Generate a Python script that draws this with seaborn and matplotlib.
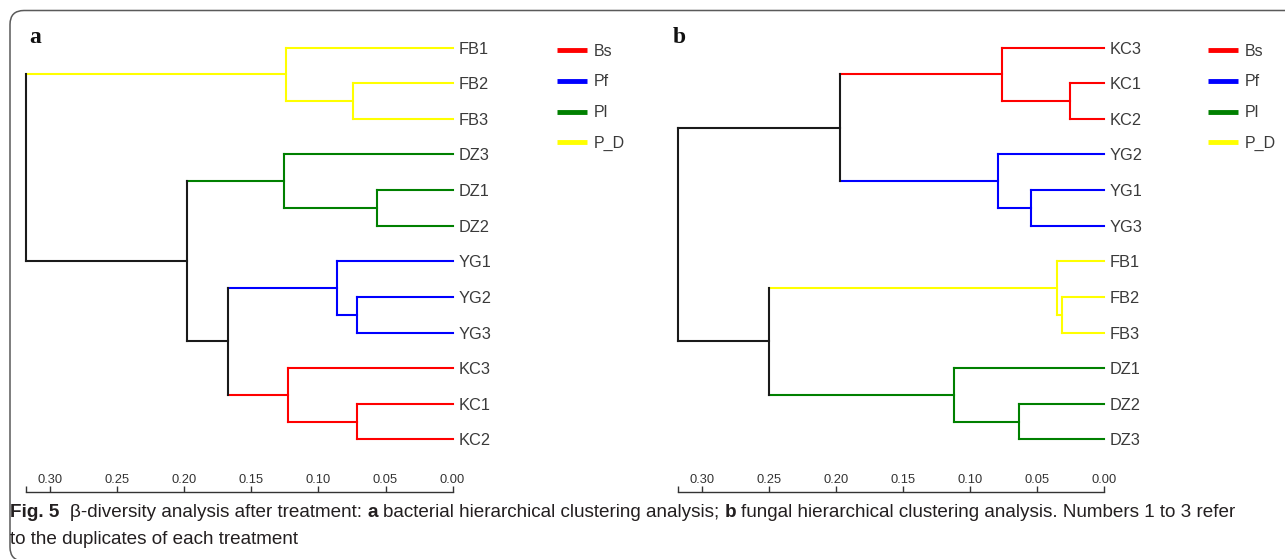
import numpy as np
import pandas as pd
import matplotlib
matplotlib.use("Agg")
import matplotlib.pyplot as plt
import seaborn as sns
from matplotlib.lines import Line2D
from matplotlib.patches import FancyBboxPatch
from matplotlib.transforms import IdentityTransform
from matplotlib import font_manager

# ---------------- data ----------------
groups = ["Bs", "Pf", "Pl", "P_D"]
group_colors = ["#ff0000", "#0000ff", "#008000", "#ffff00"]

# panel a (bacteria)
leaves_a = ["FB1", "FB2", "FB3", "DZ3", "DZ1", "DZ2", "YG1", "YG2", "YG3", "KC3", "KC1", "KC2"]
leaf_group_a = ["P_D", "P_D", "P_D", "Pl", "Pl", "Pl", "Pf", "Pf", "Pf", "Bs", "Bs", "Bs"]
merge_left_a = [1, 0, 4, 3, 7, 6, 10, 9, 17, 15, 13]
merge_right_a = [2, 12, 5, 14, 8, 16, 11, 18, 19, 20, 21]
merge_height_a = [0.074, 0.124, 0.056, 0.126, 0.071, 0.086, 0.0715, 0.1225, 0.1675, 0.198, 0.318]

# panel b (fungi)
leaves_b = ["KC3", "KC1", "KC2", "YG2", "YG1", "YG3", "FB1", "FB2", "FB3", "DZ1", "DZ2", "DZ3"]
leaf_group_b = ["Bs", "Bs", "Bs", "Pf", "Pf", "Pf", "P_D", "P_D", "P_D", "Pl", "Pl", "Pl"]
merge_left_b = [1, 0, 4, 3, 13, 7, 6, 10, 9, 18, 16]
merge_right_b = [2, 12, 5, 14, 15, 8, 17, 11, 19, 20, 21]
merge_height_b = [0.025, 0.076, 0.054, 0.079, 0.1965, 0.031, 0.035, 0.0635, 0.112, 0.250, 0.318]

x_ticks = [0.30, 0.25, 0.20, 0.15, 0.10, 0.05, 0.00]
x_tick_labels = ["0.30", "0.25", "0.20", "0.15", "0.10", "0.05", "0.00"]

caption_line1 = [("Fig. 5", "bold"), ("β-diversity analysis after treatment:", "normal"), ("a", "bold"),
                 ("bacterial hierarchical clustering analysis;", "normal"), ("b", "bold"),
                 ("fungal hierarchical clustering analysis. Numbers 1 to 3 refer", "normal")]
caption_line2 = "to the duplicates of each treatment"

# ---------------- style ----------------
sns.set_theme(style="white")
plt.rcParams["font.family"] = ["Liberation Sans", "DejaVu Sans"]
plt.rcParams["lines.solid_capstyle"] = "projecting"


def first_font(names):
    for n in names:
        try:
            font_manager.findfont(font_manager.FontProperties(family=n), fallback_to_default=False)
            return n
        except Exception:
            pass
    return "DejaVu Sans"


W, H = 1285, 559
fig = plt.figure(figsize=(W / 100, H / 100), dpi=100)
fig.patch.set_facecolor("white")


def px_axes(x0, y0, x1, y1):
    return fig.add_axes([x0 / W, 1 - y1 / H, (x1 - x0) / W, (y1 - y0) / H])


def build_segments(leaf_group, left, right, height):
    n = len(leaf_group)
    pos = {i: (0.0, float(i)) for i in range(n)}
    grp = {i: leaf_group[i] for i in range(n)}
    rows = []
    seg = 0
    for k, (l, r, h) in enumerate(zip(left, right, height)):
        node = n + k
        hl, yl = pos[l]
        hr, yr = pos[r]
        g = grp[l] if grp[l] == grp[r] else "none"
        grp[node] = g
        for child, hc, yc in ((l, hl, yl), (r, hr, yr)):
            rows.append(dict(seg=seg, x=h, y=yc, c=grp[child]))
            rows.append(dict(seg=seg, x=hc, y=yc, c=grp[child]))
            seg += 1
        rows.append(dict(seg=seg, x=h, y=yl, c=g))
        rows.append(dict(seg=seg, x=h, y=yr, c=g))
        seg += 1
        pos[node] = (h, (yl + yr) / 2)
    return pd.DataFrame(rows)


palette = dict(zip(groups, group_colors))
palette["none"] = "#1a1a1a"
hue_order = groups + ["none"]


def draw_panel(ax, leaves, leaf_group, left, right, height, legend_xy):
    df = build_segments(leaf_group, left, right, height)
    sns.lineplot(data=df, x="x", y="y", units="seg", estimator=None, hue="c",
                 hue_order=hue_order, palette=palette, sort=False, legend=False,
                 linewidth=1.5, ax=ax)
    for ln in ax.get_lines():
        ln.set_clip_on(False)
    root = max(height)
    n = len(leaves)
    ax.set_xlim(root, 0)
    ax.set_ylim(n + 0.48, -0.497)
    ax.set_xlabel("")
    ax.set_ylabel("")
    ax.set_xticks(x_ticks)
    ax.set_xticklabels(x_tick_labels)
    ax.set_xticks([root], minor=True)
    ax.tick_params(axis="x", which="both", direction="in", length=4.5, width=1,
                   color="#333333", pad=-13, labelsize=9.3, labelcolor="#333333",
                   bottom=True)
    ax.yaxis.tick_right()
    ax.set_yticks(range(n))
    ax.set_yticklabels(leaves)
    ax.tick_params(axis="y", length=0, pad=4.2, labelsize=11.8, labelcolor="#3a3a3a")
    for s in ["left", "top", "right"]:
        ax.spines[s].set_visible(False)
    ax.spines["bottom"].set_bounds(0, root)
    ax.spines["bottom"].set_color("#333333")
    ax.spines["bottom"].set_linewidth(1)
    ax.patch.set_alpha(0)
    ax.grid(False)
    handles = [Line2D([], [], color=c, lw=3.5, solid_capstyle="butt") for c in group_colors]
    leg = ax.legend(handles, groups, loc="upper left",
                    bbox_to_anchor=(legend_xy[0] / W, 1 - legend_xy[1] / H),
                    bbox_transform=fig.transFigure, frameon=False, borderpad=0,
                    borderaxespad=0, handlelength=1.85, handletextpad=0.45,
                    labelspacing=0.99, fontsize=11.5)
    for t in leg.get_texts():
        t.set_color("#3a3a3a")


ax_a = px_axes(26, 30, 452.6, 492)
ax_b = px_axes(677.5, 30, 1103.8, 492)
draw_panel(ax_a, leaves_a, leaf_group_a, merge_left_a, merge_right_a, merge_height_a, (557, 43.5))
draw_panel(ax_b, leaves_b, leaf_group_b, merge_left_b, merge_right_b, merge_height_b, (1208, 43.5))

# panel letters
serif = first_font(["Liberation Serif", "DejaVu Serif"])
fig.text(29.5 / W, 1 - 43 / H, "a", family=serif, weight="bold", size=17, va="baseline", color="#111111")
fig.text(673 / W, 1 - 43 / H, "b", family=serif, weight="bold", size=17, va="baseline", color="#111111")

# rounded frame (extends past right and bottom edges)
frame = FancyBboxPatch((10.0, -2.0), 1320, 550.5, boxstyle="round,pad=0,rounding_size=14",
                       transform=IdentityTransform(), fill=False, ec="#5a5a5a", lw=1.1)
fig.add_artist(frame)

# caption
cap_family = [first_font(["Liberation Sans Narrow", "Liberation Sans", "DejaVu Sans"]), "DejaVu Sans"]
renderer = fig.canvas.get_renderer()


def text_w(s, size, weight="normal"):
    t = fig.text(0, 0, s, family=cap_family, size=size, weight=weight)
    w = t.get_window_extent(renderer).width
    t.remove()
    return w


def line_width(pieces, size):
    sp = text_w("x x", size) - text_w("xx", size)
    total = 0
    for i, (s, wgt) in enumerate(pieces):
        total += text_w(s, size, wgt)
        if i < len(pieces) - 1:
            total += sp * (2 if i == 0 else 1)
    return total


base = 12.0
size = base * 1235.0 / line_width(caption_line1, base)
sp = text_w("x x", size) - text_w("xx", size)
x = 10.0
cap_color = "#231f20"
for i, (s, wgt) in enumerate(caption_line1):
    t = fig.text(x / W, 1 - 517 / H, s, family=cap_family, size=size, weight=wgt,
                 va="baseline", ha="left", color=cap_color)
    x += t.get_window_extent(renderer).width + sp * (2 if i == 0 else 1)
fig.text(10 / W, 1 - 544 / H, caption_line2, family=cap_family, size=size,
         va="baseline", ha="left", color=cap_color)

fig.savefig("out.png", dpi=100, facecolor="white")
